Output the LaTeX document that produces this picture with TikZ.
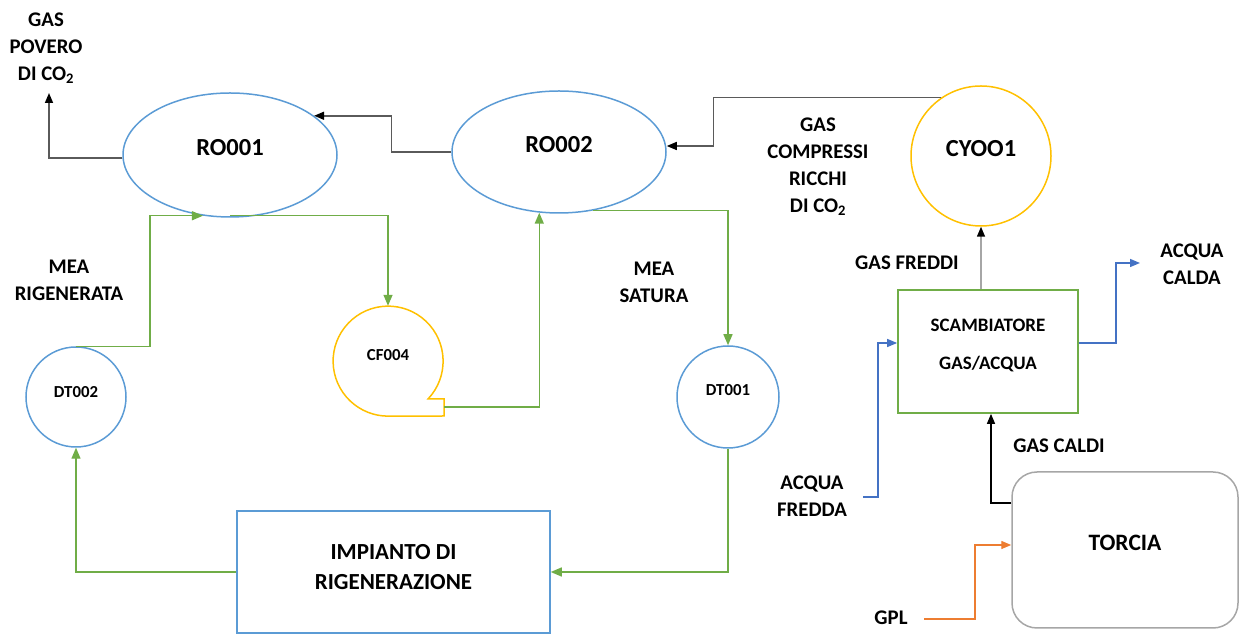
\documentclass[tikz,border=0pt]{standalone}
\usepackage{fontspec}
\setmainfont{Carlito}
\usetikzlibrary{shapes.geometric,arrows.meta}
\definecolor{cblue}{HTML}{5B9BD5}
\definecolor{cgreen}{HTML}{70AD47}
\definecolor{cyel}{HTML}{FFC000}
\definecolor{corange}{HTML}{ED7D31}
\definecolor{cwater}{HTML}{4472C4}
\definecolor{cgray}{HTML}{A6A6A6}
\definecolor{cdark}{HTML}{5A5A5A}
\begin{document}
\begin{tikzpicture}[x=1pt,y=1pt,
  big/.style={font=\fontsize{24.5}{28}\selectfont\bfseries,inner sep=0pt},
  lbl/.style={font=\fontsize{20.8}{27}\selectfont\bfseries,align=center,inner sep=0pt},
  small/.style={font=\fontsize{16.8}{19}\selectfont\bfseries,inner sep=0pt},
  vessel/.style={ellipse,draw=cblue,line width=1.5pt,inner sep=0pt},
  drum/.style={circle,draw=cblue,line width=1.5pt,inner sep=0pt},
  tipk/.style={-{Triangle[length=10pt,width=8pt,color=black]}},
  kline/.style={tipk,draw=cdark,line width=1.5pt},
  gline/.style={-{Triangle[length=11pt,width=9pt]},draw=cgreen,line width=1.4pt},
  bline/.style={-{Triangle[length=10pt,width=8pt]},draw=cwater,line width=1.4pt},
  oline/.style={-{Triangle[length=10pt,width=8pt]},draw=corange,line width=1.4pt},
]
\useasboundingbox (0,0) rectangle (1240,634);

% vessels
\node[vessel,minimum width=214pt,minimum height=124pt,
  label={[big,yshift=7pt]center:RO001}] (RO1) at (230,479) {};
\node[vessel,minimum width=214pt,minimum height=122pt,
  label={[big,yshift=7pt]center:RO002}] (RO2) at (559,482) {};
\node[circle,draw=cyel,line width=1.5pt,inner sep=0pt,minimum size=140pt,
  label={[big,yshift=7pt]center:CYOO1}] (CY) at (981,478) {};
\node[drum,minimum size=100pt,
  label={[small,yshift=5pt]center:DT002}] (DT2) at (76,237) {};
\node[drum,minimum size=102pt,
  label={[small,yshift=7pt]center:DT001}] (DT1) at (728,237) {};

% pump
\node[circle,inner sep=0pt,minimum size=110pt,
  label={[small,yshift=6pt]center:CF004}] (CF) at (388,273) {};
\draw[draw=cyel,line width=1.5pt] (444,218) -- (444,235) -- (428,235)
  arc[start angle=-43.5,end angle=270,radius=55pt] -- cycle;
\coordinate (CFout) at (444,227);

% boxes
\node[draw=cblue,line width=1.5pt,minimum width=313pt,minimum height=122pt,
  label={[font=\fontsize{23}{30}\selectfont\bfseries,align=center,yshift=5pt]center:{IMPIANTO DI\\RIGENERAZIONE}}] (IMP) at (393.5,62) {};
\node[draw=cgreen,line width=1.7pt,minimum width=180pt,minimum height=123pt,
  label={[font=\fontsize{19}{38}\selectfont\bfseries,align=center,yshift=6.5pt]center:{SCAMBIATORE\\GAS/ACQUA}}] (SC) at (988,282.5) {};
\node[draw=cgray,line width=1.5pt,rounded corners=25pt,minimum width=226pt,minimum height=156pt,
  label={[font=\fontsize{23.5}{28}\selectfont\bfseries,yshift=7pt]center:TORCIA}] (TO) at (1125,84) {};

% labels
\node[lbl] (Lpov) at (46,586) {GAS\\POVERO\\DI CO\textsubscript{2}};
\node[lbl] (Lcomp) at (818,467) {GAS\\COMPRESSI\\RICCHI\\DI CO\textsubscript{2}};
\node[lbl] (Lmea1) at (69,354) {MEA\\RIGENERATA};
\node[lbl] (Lmea2) at (654,352) {MEA\\SATURA};
\node[lbl] (Lfred) at (907,371) {GAS FREDDI};
\node[lbl] (Lcald) at (1192,370) {ACQUA\\CALDA};
\node[lbl] (Lgc) at (1059,188) {GAS CALDI};
\node[lbl] (Laf) at (812,137.5) {ACQUA\\FREDDA};
\node[lbl] (Lgpl) at (891,16) {GPL};

\coordinate (Gpov) at (49,541);
\coordinate (ACout) at (1140,371);
\coordinate (AFin) at (863,137);
\coordinate (GPLin) at (924,15);

% gas connectors
\draw[kline] (CY.124) -- ++(-228,0) |- ([yshift=6pt]RO2.east);
\draw[kline] (RO2.west) -- ++(-60,0) |- (RO1.25);
\draw[kline] ([yshift=-3pt]RO1.west) -| (Gpov);

% MEA connectors
\draw[gline] (DT2.north) -- ++(74,0) |- (RO1.246);
\draw[gline] ([yshift=2pt]RO1.south) -| (CF.north);
\draw[gline] (CFout) -| (RO2.252);
\draw[gline] (RO2.-60) -| (DT1.north);
\draw[gline] (DT1.south) |- (IMP.east);
\draw[gline] (IMP.west) -| (DT2.south);

% heat exchanger connectors
\draw[tipk,draw=cgray,line width=1.5pt] (SC.north -| CY.south) -- (CY.south);
\draw[bline] ([yshift=8.5pt]SC.east) -- ++(37,0) |- (ACout);
\draw[bline] (AFin) -- ++(15,0) |- ([yshift=8.5pt]SC.west);
\draw[tipk,draw=black,line width=1.4pt] ([yshift=47pt]TO.west) -| ([xshift=3pt]SC.south);
\draw[oline] (GPLin) -- ++(51,0) |- ([yshift=5pt]TO.west);
\end{tikzpicture}
\end{document}
